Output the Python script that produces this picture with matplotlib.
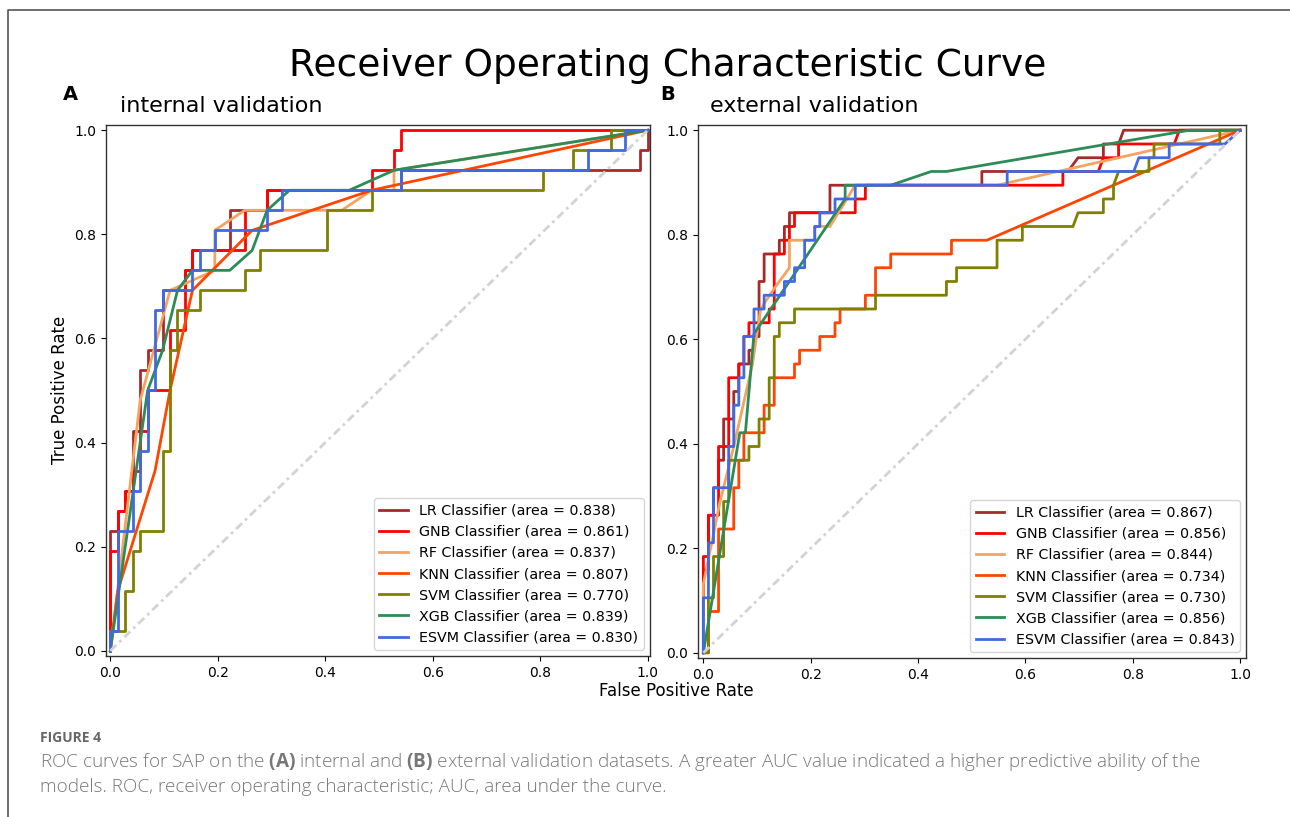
import numpy as np
import matplotlib
matplotlib.use('Agg')
import matplotlib.pyplot as plt
from matplotlib.lines import Line2D

plt.rcParams['font.family'] = ['DejaVu Sans']
plt.rcParams['mathtext.fontset'] = 'custom'
plt.rcParams['mathtext.rm'] = 'Open Sans'
plt.rcParams['mathtext.bf'] = 'Open Sans:bold'

models = ['LR', 'GNB', 'RF', 'KNN', 'SVM', 'XGB', 'ESVM']
colors = ['brown', 'red', 'sandybrown', 'orangered', 'olive', 'seagreen', 'royalblue']

# internal validation: 72 negatives, 26 positives (counts)
int_neg, int_pos = 72, 26
int_auc = [0.838, 0.861, 0.837, 0.807, 0.770, 0.839, 0.830]
int_fp = {
    'LR':   [0, 0, 1, 1, 2, 2, 3, 3, 4, 4, 5, 5, 7, 7, 10, 10, 11, 11, 16, 16, 21, 21, 39, 39, 71, 71, 72, 72],
    'GNB':  [0, 0, 1, 1, 2, 2, 3, 3, 4, 4, 5, 5, 8, 8, 10, 10, 11, 11, 18, 18, 21, 21, 35, 35, 38, 38, 39, 39, 72],
    'RF':   [0, 4, 8, 14, 14, 18, 31, 35, 38, 38, 72],
    'KNN':  [0, 1, 6, 8, 11, 19, 35, 72],
    'SVM':  [0, 0, 2, 2, 3, 3, 4, 4, 7, 7, 8, 8, 9, 9, 12, 12, 18, 18, 20, 20, 29, 29, 35, 35, 58, 58, 62, 62, 67, 67, 72],
    'XGB':  [0, 5, 6, 7, 9, 11, 16, 19, 21, 24, 32, 38, 72],
    'ESVM': [0, 0, 1, 1, 3, 3, 4, 4, 5, 5, 6, 6, 7, 7, 11, 11, 12, 12, 14, 14, 21, 21, 23, 23, 39, 39, 64, 64, 69, 69, 72],
}
int_tp = {
    'LR':   [0, 6, 6, 7, 7, 8, 8, 11, 11, 14, 14, 15, 15, 18, 18, 19, 19, 20, 20, 22, 22, 23, 23, 24, 24, 25, 25, 26],
    'GNB':  [0, 5, 5, 7, 7, 8, 8, 9, 9, 11, 11, 13, 13, 16, 16, 19, 19, 20, 20, 22, 22, 23, 23, 24, 24, 25, 25, 26, 26],
    'RF':   [0, 12.5, 18, 19, 21, 22, 22, 23, 23, 24, 26],
    'KNN':  [0, 3, 9, 13, 18, 21, 23, 26],
    'SVM':  [0, 1, 1, 3, 3, 5, 5, 6, 6, 10, 10, 15, 15, 17, 17, 18, 18, 19, 19, 20, 20, 22, 22, 23, 23, 24, 24, 25, 25, 26, 26],
    'XGB':  [0, 13, 14, 15, 18, 19, 19, 20, 22, 23, 23, 24, 26],
    'ESVM': [0, 1, 1, 6, 6, 8, 8, 10, 10, 13, 13, 17, 17, 18, 18, 19, 19, 20, 20, 21, 21, 22, 22, 23, 23, 24, 24, 25, 25, 26, 26],
}

# external validation: 106 negatives, 38 positives
ext_neg, ext_pos = 106, 38
ext_auc = [0.867, 0.856, 0.844, 0.734, 0.730, 0.856, 0.843]
ext_fp = {
    'LR':   [0, 0, 1, 1, 2, 2, 3, 3, 4, 4, 6, 6, 7, 7, 9, 9, 10, 10, 11, 11, 12, 12, 15, 15, 16, 16, 17, 17, 25, 25, 55, 55, 72, 74, 79, 79, 82, 83, 106],
    'GNB':  [0, 0, 1, 1, 3, 3, 5, 5, 7, 7, 8, 8, 9, 9, 13, 13, 14, 14, 16, 16, 17, 17, 18, 18, 30, 30, 32, 32, 71, 71, 78, 79, 82, 82, 93, 94, 106],
    'RF':   [0, 0, 3.3, 6, 9.7, 11.3, 14, 17, 17, 22, 22, 25, 30, 58, 106],
    'KNN':  [0, 1, 1, 3, 3, 6, 6, 7, 7, 8, 8, 12, 12, 14, 14, 18, 18, 19, 19, 23, 23, 26, 26, 27, 27, 32, 32, 34, 34, 37, 37, 49, 49, 56, 106],
    'SVM':  [0, 1, 1, 2, 2, 4, 4, 5, 5, 9, 9, 11, 11, 13, 13, 14, 14, 15, 15, 18, 18, 34, 34, 48, 48, 50, 50, 58, 58, 63, 63, 73, 74, 79, 79, 81, 81, 82, 88, 88, 89, 89, 102, 102, 106],
    'XGB':  [0, 7.2, 8.3, 10, 28, 28, 37, 45, 48, 96, 106],
    'ESVM': [0, 0, 1, 1, 2, 2, 5, 5, 6, 6, 7, 7, 8, 8, 10, 10, 12, 12, 16, 16, 18, 18, 20, 20, 22, 22, 23, 23, 26, 26, 30, 30, 60, 60, 85, 86, 92, 92, 103, 106],
}
ext_tp = {
    'LR':   [0, 6, 6, 10, 10, 12, 12, 14, 14, 17, 17, 19, 19, 21, 21, 22, 22, 23, 23, 27, 27, 29, 29, 30, 30, 31, 31, 32, 32, 34, 34, 35, 35, 36, 36, 37, 37, 38, 38],
    'GNB':  [0, 7, 7, 10, 10, 15, 15, 20, 20, 21, 21, 23, 23, 24, 24, 25, 25, 29, 29, 30, 30, 31, 31, 32, 32, 33, 33, 34, 34, 35, 35, 36, 36, 37, 37, 38, 38],
    'RF':   [0, 5, 11, 15, 21, 25, 26.5, 28, 30, 30, 31, 31, 34, 34, 38],
    'KNN':  [0, 0, 3, 3, 9, 9, 12, 12, 14, 14, 16, 16, 18, 18, 20, 20, 21, 21, 22, 22, 23, 23, 24, 24, 25, 25, 26, 26, 28, 28, 29, 29, 30, 30, 38],
    'SVM':  [0, 0, 4, 4, 7, 7, 11, 11, 14, 14, 15, 15, 17, 17, 20, 20, 23, 23, 24, 24, 25, 25, 26, 26, 27, 27, 28, 28, 30, 30, 31, 31, 32, 32, 33, 33, 34, 35, 35, 36, 36, 37, 37, 38, 38],
    'XGB':  [0, 16, 16, 23.2, 33, 34, 34, 35, 35, 38, 38],
    'ESVM': [0, 4, 4, 8, 8, 12, 12, 15, 15, 18, 18, 20, 20, 23, 23, 25, 25, 26, 26, 27, 27, 28, 28, 30, 30, 31, 31, 32, 32, 33, 33, 34, 34, 35, 35, 36, 36, 37, 37, 38],
}

W, H = 1290, 817
fig = plt.figure(figsize=(W / 100, H / 100), dpi=100)


def px_axes(left, top, right, bottom):
    return fig.add_axes([left / W, 1 - bottom / H, (right - left) / W, (bottom - top) / H])


ax_a = px_axes(106, 125, 650, 656)
ax_b = px_axes(698, 125, 1246, 658)

panels = [
    (ax_a, int_fp, int_tp, int_neg, int_pos, int_auc, (-0.008, 1.004)),
    (ax_b, ext_fp, ext_tp, ext_neg, ext_pos, ext_auc, (-0.01, 1.011)),
]

for ax, fp, tp, n_neg, n_pos, aucs, xlim in panels:
    for name, col, auc in zip(models, colors, aucs):
        fpr = np.array(fp[name]) / n_neg
        tpr = np.array(tp[name]) / n_pos
        ax.plot(fpr, tpr, color=col, lw=2,
                label='%s Classifier (area = %.3f)' % (name, auc))
    # chance line
    ax.plot([0, 1], [0, 1], color='lightgray', lw=2, linestyle=(0, (3, 1.5, 1, 1.5)))
    ax.set_xlim(*xlim)
    ax.set_ylim(-0.01, 1.01)
    ax.set_xticks(np.arange(0, 1.01, 0.2))
    ax.set_yticks(np.arange(0, 1.01, 0.2))
    ax.tick_params(labelsize=10)
    for sp in ax.spines.values():
        sp.set_color('#333333')
        sp.set_linewidth(1.0)
    ax.legend(loc='lower right', fontsize=10.3, labelspacing=0.5,
              borderaxespad=0.4, handlelength=2.0)

# headings
fig.text(668 / W, 1 - 66 / H, 'Receiver Operating Characteristic Curve',
         fontsize=27, ha='center', va='center')
fig.text(120 / W, 1 - 106 / H, 'internal validation', fontsize=16, va='center')
fig.text(710 / W, 1 - 106 / H, 'external validation', fontsize=16, va='center')
fig.text(63 / W, 1 - 95 / H, 'A', fontsize=14, weight='bold', va='center')
fig.text(660 / W, 1 - 95 / H, 'B', fontsize=14, weight='bold', va='center')
fig.text(60 / W, 1 - 390 / H, 'True Positive Rate', fontsize=12,
         rotation=90, ha='center', va='center')
fig.text(676 / W, 1 - 691 / H, 'False Positive Rate', fontsize=12,
         ha='center', va='center')

# caption
fig.text(40 / W, 1 - 738 / H, 'FIGURE 4', fontsize=10, family='Open Sans',
         weight='bold', color='#666666', va='center')
fig.text(40 / W, 1 - 762 / H,
         r'ROC curves for SAP on the $\mathbf{(A)}$ internal and $\mathbf{(B)}$ external '
         'validation datasets. A greater AUC value indicated a higher predictive ability of the',
         fontsize=13.6, family='Open Sans', weight='light', color='#777777', va='center')
fig.text(40 / W, 1 - 787 / H,
         'models. ROC, receiver operating characteristic; AUC, area under the curve.',
         fontsize=13.6, family='Open Sans', weight='light', color='#777777', va='center')

# page frame on left and top
fig.add_artist(Line2D([8 / W, 8 / W, 1], [0, 1 - 10 / H, 1 - 10 / H],
                      transform=fig.transFigure, color='#555555', lw=1.2))

fig.savefig('out.png', dpi=100)
